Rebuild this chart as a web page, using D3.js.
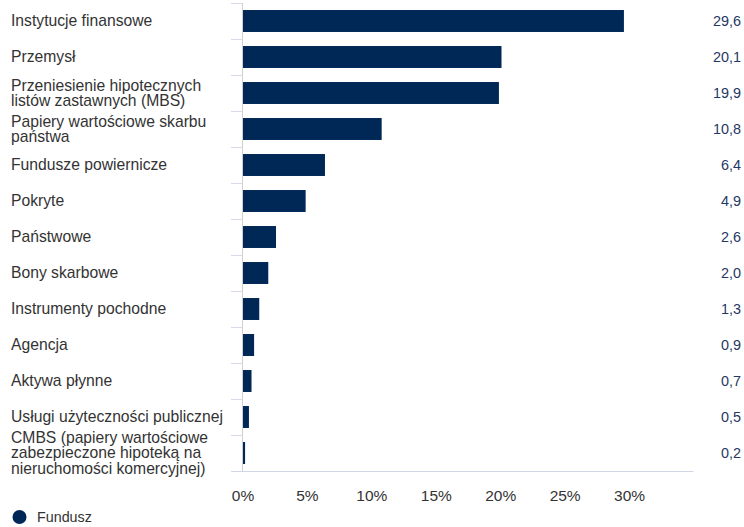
<!DOCTYPE html>
<html><head><meta charset="utf-8">
<script src="https://cdn.jsdelivr.net/npm/d3@7"></script>
<style>body{margin:0;background:#fff;font-family:"Liberation Sans",Arial,sans-serif;}</style>
</head><body>
<svg id="c" width="744" height="527"></svg>
<script>
const categories = [
  ["Instytucje finansowe"],
  ["Przemysł"],
  ["Przeniesienie hipotecznych","listów zastawnych (MBS)"],
  ["Papiery wartościowe skarbu","państwa"],
  ["Fundusze powiernicze"],
  ["Pokryte"],
  ["Państwowe"],
  ["Bony skarbowe"],
  ["Instrumenty pochodne"],
  ["Agencja"],
  ["Aktywa płynne"],
  ["Usługi użyteczności publicznej"],
  ["CMBS (papiery wartościowe","zabezpieczone hipoteką na","nieruchomości komercyjnej)"]
];
const values = [29.6, 20.1, 19.9, 10.8, 6.4, 4.9, 2.6, 2.0, 1.3, 0.9, 0.7, 0.5, 0.2];
const valueLabels = ["29,6","20,1","19,9","10,8","6,4","4,9","2,6","2,0","1,3","0,9","0,7","0,5","0,2"];
const xTicks = [0,5,10,15,20,25,30];
const seriesName = "Fundusz";

const svg = d3.select("#c");
const color = "#002857";
const x = d3.scaleLinear().domain([0,35]).range([242.5, 693.5]);
const y = d3.scaleBand().domain(d3.range(categories.length)).range([3, 471]).paddingInner(0.39).paddingOuter(0.195);
const yb = d3.scaleBand().domain(d3.range(categories.length)).range([3, 471]);

// tick marks at category boundaries
const bounds = d3.range(categories.length).map(i => yb(i));
svg.append("g").selectAll("line").data(bounds).join("line")
  .attr("x1",231).attr("x2",242).attr("y1",d=>Math.round(d)+0.5).attr("y2",d=>Math.round(d)+0.5)
  .attr("stroke","#d5dbe8").attr("stroke-width",1);

// bottom axis line
svg.append("line").attr("x1",231).attr("x2",x.range()[1]).attr("y1",471.5).attr("y2",471.5)
  .attr("stroke","#cfd6e4").attr("stroke-width",1);
// vertical axis line
svg.append("line").attr("x1",242.5).attr("x2",242.5).attr("y1",3).attr("y2",471)
  .attr("stroke","#d0d0d0").attr("stroke-width",1);

// bars
svg.append("g").selectAll("rect").data(values).join("rect")
  .attr("x", x(0)+0.5).attr("y",(d,i)=>y(i)).attr("height",y.bandwidth())
  .attr("width",d=>Math.max(0, x(d)-x(0)-0.5)).attr("fill",color);

// category labels
const lh = 15.5;
const cl = svg.append("g").attr("font-size",15.7).attr("fill","#333");
categories.forEach((lines,i)=>{
  const cy = yb(i)+yb.bandwidth()/2;
  const t = cl.append("text");
  lines.forEach((l,j)=>{
    t.append("tspan").attr("x",11).attr("y", cy - (lines.length-1)*lh/2 + j*lh).attr("dy","0.35em").text(l);
  });
});

// value labels
svg.append("g").selectAll("text").data(values).join("text")
  .attr("x",741).attr("y",(d,i)=>yb(i)+yb.bandwidth()/2).attr("dy","0.35em")
  .attr("text-anchor","end").attr("font-size",14.4).attr("fill","#1f3864")
  .text((d,i)=>valueLabels[i]);

// x axis tick labels
const xa = d3.axisBottom(x).tickValues(xTicks).tickFormat(d=>d+"%").tickSize(0);
const g = svg.append("g").attr("transform","translate(0,487)").call(xa);
g.select(".domain").remove();
g.selectAll("text").attr("font-size",15.5).attr("fill","#333").attr("font-family","'Liberation Sans',Arial,sans-serif");

// legend
svg.append("circle").attr("cx",19.5).attr("cy",517).attr("r",7).attr("fill",color);
svg.append("text").attr("x",37).attr("y",517).attr("dy","0.35em").attr("font-size",14.3).attr("fill","#333").text(seriesName);
</script>
</body></html>
